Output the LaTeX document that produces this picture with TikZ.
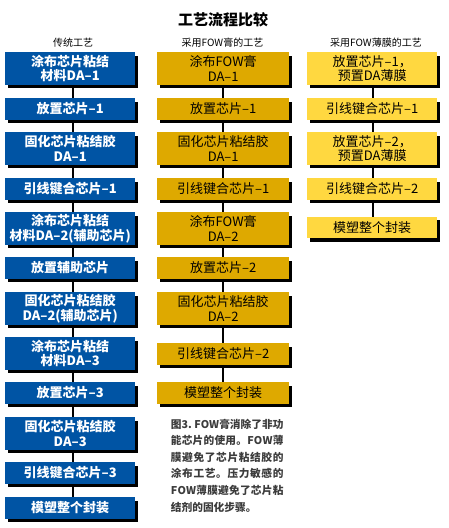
\documentclass[tikz,border=0pt]{standalone}
\usepackage{fontspec}
\setmainfont{Noto Sans CJK SC}
\newfontfamily\cjk{Noto Sans CJK SC}
\usetikzlibrary{shadows}
\definecolor{fowblue}{RGB}{0,84,164}
\definecolor{fowgold}{RGB}{222,169,0}
\definecolor{fowyellow}{RGB}{255,216,64}
\definecolor{captgray}{RGB}{60,60,60}
\def\spreadtext#1{\spreadfirst#1\relax}
\def\spreadfirst#1{#1\spreadrest}
\def\spreadrest#1{\ifx#1\relax\else\hfil#1\expandafter\spreadrest\fi}
\tikzset{
  box/.style={anchor=north west, inner sep=0pt, align=center,
    drop shadow={shadow xshift=2.5pt, shadow yshift=-3.3pt, fill=black, opacity=1}},
  tall/.style={minimum height=32.5pt},
  short/.style={minimum height=21.5pt},
  bluebox/.style={box, fill=fowblue, text=white, minimum width=130pt,
    font=\cjk\bfseries\fontsize{13}{14.5}\selectfont},
  goldbox/.style={box, fill=fowgold, text=black, minimum width=132pt,
    font=\cjk\fontsize{13}{14.5}\selectfont},
  yellowbox/.style={box, fill=fowyellow, text=black, minimum width=130pt,
    font=\cjk\fontsize{13}{14.5}\selectfont},
  link/.style={draw=black, line width=2pt},
  header/.style={font=\cjk\fontsize{10}{12}\selectfont},
  capline/.style={anchor=west, inner sep=0pt, text=captgray,
    font=\cjk\bfseries\fontsize{10.7}{12}\selectfont}
}
\begin{document}
\begin{tikzpicture}[x=1pt, y=-1pt]
\useasboundingbox (0,0) rectangle (448,528);
\fill[white] (0,0) rectangle (448,528);
\node (title) at (223,20) {\cjk\bfseries\fontsize{15}{18}\selectfont 工艺流程比较};
\node[header] (h1) at (73,43) {传统工艺};
\node[header] (h2) at (222.5,43) {采用FOW膏的工艺};
\node[header] (h3) at (376,43) {采用FOW薄膜的工艺};
% left column
\node[bluebox, tall]  (l1)  at (5,52)  {涂布芯片粘结\\材料DA–1};
\node[bluebox, short] (l2)  at (5,98)  {放置芯片–1};
\node[bluebox, tall]  (l3)  at (5,132) {固化芯片粘结胶\\DA–1};
\node[bluebox, short] (l4)  at (5,178) {引线键合芯片–1};
\node[bluebox, tall]  (l5)  at (5,212) {涂布芯片粘结\\材料DA–2(辅助芯片)};
\node[bluebox, short] (l6)  at (5,257) {放置辅助芯片};
\node[bluebox, tall]  (l7)  at (5,292) {固化芯片粘结胶\\DA–2(辅助芯片)};
\node[bluebox, tall]  (l8)  at (5,337) {涂布芯片粘结\\材料DA–3};
\node[bluebox, short] (l9)  at (5,382) {放置芯片–3};
\node[bluebox, tall]  (l10) at (5,417) {固化芯片粘结胶\\DA–3};
\node[bluebox, short] (l11) at (5,462) {引线键合芯片–3};
\node[bluebox, short] (l12) at (5,497) {模塑整个封装};
% middle column
\node[goldbox, tall]  (m1) at (157,52)  {涂布FOW膏\\DA–1};
\node[goldbox, short] (m2) at (157,98)  {放置芯片–1};
\node[goldbox, tall]  (m3) at (157,132) {固化芯片粘结胶\\DA–1};
\node[goldbox, short] (m4) at (157,178) {引线键合芯片–1};
\node[goldbox, tall]  (m5) at (157,212) {涂布FOW膏\\DA–2};
\node[goldbox, short] (m6) at (157,257) {放置芯片–2};
\node[goldbox, tall]  (m7) at (157,292) {固化芯片粘结胶\\DA–2};
\node[goldbox, short] (m8) at (157,343) {引线键合芯片–2};
\node[goldbox, short] (m9) at (157,382) {模塑整个封装};
% right column
\node[yellowbox, tall]  (r1) at (307,52)  {放置芯片–1，\\预置DA薄膜};
\node[yellowbox, short] (r2) at (307,98)  {引线键合芯片–1};
\node[yellowbox, tall]  (r3) at (307,132) {放置芯片–2，\\预置DA薄膜};
\node[yellowbox, short] (r4) at (307,178) {引线键合芯片–2};
\node[yellowbox, short] (r5) at (307,216.5) {模塑整个封装};
% connectors
\foreach \a/\b in {l1/l2,l2/l3,l3/l4,l4/l5,l5/l6,l6/l7,l7/l8,l8/l9,l9/l10,l10/l11,l11/l12}
  \draw[link] ([xshift=2.7pt]\a.south) -- ([xshift=2.7pt]\b.north);
\foreach \a/\b in {m1/m2,m2/m3,m3/m4,m4/m5,m5/m6,m6/m7,m7/m8,m8/m9}
  \draw[link] (\a.south) -- (\b.north);
\foreach \a/\b in {r1/r2,r2/r3,r3/r4,r4/r5}
  \draw[link] ([xshift=1pt]\a.south) -- ([xshift=1pt]\b.north);
% caption
\node[capline] (c1) at (170.7,424) {\makebox[112.6pt][s]{\spreadtext{图3.\ FOW膏消除了非功}}};
\node[capline] (c2) at (170.7,440.6) {\makebox[112.6pt][s]{\spreadtext{能芯片的使用。FOW薄}}};
\node[capline] (c3) at (170.7,457.2) {\makebox[112.6pt][s]{\spreadtext{膜避免了芯片粘结胶的}}};
\node[capline] (c4) at (170.7,473.8) {\makebox[112.6pt][s]{\spreadtext{涂布工艺。压力敏感的}}};
\node[capline] (c5) at (170.7,490.4) {\makebox[112.6pt][s]{\spreadtext{FOW薄膜避免了芯片粘}}};
\node[capline] (c6) at (170.7,507) {\makebox[78pt][s]{\spreadtext{结剂的固化步骤。}}};
\end{tikzpicture}
\end{document}
